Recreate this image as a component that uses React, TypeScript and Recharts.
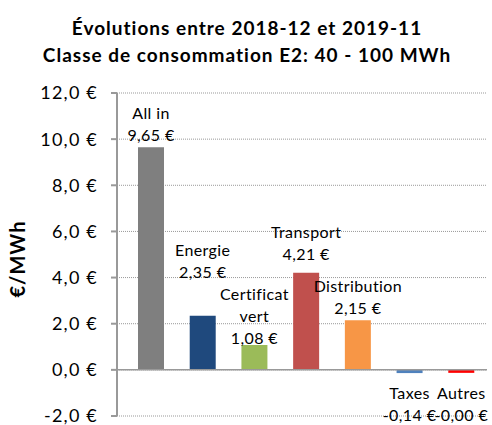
import { BarChart, Bar, XAxis, YAxis, CartesianGrid, ReferenceLine, LabelList, Cell } from "recharts";

const categories = ["All in", "Energie", "Certificat\nvert", "Transport", "Distribution", "Taxes", "Autres"];
const values = [9.65, 2.35, 1.08, 4.21, 2.15, -0.14, -0.004];
const colors = ["#7f7f7f", "#1f497d", "#9bbb59", "#c0504d", "#f79646", "#4f81bd", "#ff0000"];
const yTicks = [-2, 0, 2, 4, 6, 8, 10, 12];

// how far the label block sits from the end of its bar (px)
const labelGap = [6, 38, 1, 13, 6, 26, 26];

const data = categories.map((name, i) => ({ name, value: values[i] }));

const FONT = "Lato, 'Open Sans', sans-serif";
const fmt = (v: number) => v.toFixed(2).replace(".", ",") + " €";

function BarLabel(props: any) {
  const { x, y, width, height, index } = props;
  const v = values[index];
  const lines = [...categories[index].split("\n"), fmt(v)];
  const cx = x + width / 2;
  const top = Math.min(y, y + height);
  const bottom = Math.max(y, y + height);
  const lh = 22;
  let firstBase: number;
  if (v >= 0) {
    firstBase = top - labelGap[index] - (lines.length - 1) * lh;
  } else {
    firstBase = bottom + labelGap[index];
  }
  return (
    <text
      textAnchor="middle"
      fontSize={16}
      letterSpacing={0.4}
      fill="#000"
      fontFamily={FONT}
      style={{ fontVariantLigatures: "none" }}
    >
      {lines.map((l, i) => (
        <tspan key={i} x={cx} y={firstBase + i * lh}>
          {l}
        </tspan>
      ))}
    </text>
  );
}

export default function App() {
  return (
    <div
      style={{
        position: "absolute",
        left: 0,
        top: 0,
        width: 492,
        height: 425,
        background: "#fff",
        fontFamily: FONT,
        fontVariantLigatures: "none",
      }}
    >
      <div
        style={{
          position: "absolute",
          left: 0,
          top: 14,
          width: 494,
          textAlign: "center",
          fontWeight: 700,
          fontSize: 19,
          letterSpacing: 1,
          lineHeight: "27px",
          color: "#000",
        }}
      >
        Évolutions entre 2018-12 et 2019-11
        <br />
        Classe de consommation E2: 40 - 100 MWh
      </div>
      <div
        style={{
          position: "absolute",
          left: 17,
          top: 259,
          transform: "translate(-50%, -50%) rotate(-90deg)",
          fontWeight: 700,
          fontSize: 20,
          letterSpacing: 1,
          whiteSpace: "nowrap",
          color: "#000",
        }}
      >
        €/MWh
      </div>
      <BarChart
        width={492}
        height={425}
        data={data}
        margin={{ top: 93, right: 5, bottom: 9, left: 0 }}
        style={{ position: "absolute", left: 0, top: 0 }}
      >
        <CartesianGrid vertical={false} stroke="#999" strokeDasharray="1 1" />
        <XAxis dataKey="name" hide padding={{ left: 8, right: 0 }} />
        <YAxis
          width={117}
          domain={[-2, 12]}
          ticks={yTicks}
          interval={0}
          tickFormatter={(v: number) => v.toFixed(1).replace(".", ",") + " €"}
          tick={{ fontSize: 18, fill: "#000", fontFamily: FONT, letterSpacing: 1.2 }}
          axisLine={{ stroke: "#999", strokeWidth: 2 }}
          tickLine={{ stroke: "#999", strokeWidth: 2 }}
          tickSize={6}
          tickMargin={13}
        />
        <ReferenceLine y={0} stroke="#999" strokeWidth={1.5} />
        <Bar dataKey="value" barSize={26} minPointSize={3} isAnimationActive={false}>
          {data.map((_, i) => (
            <Cell key={i} fill={colors[i]} />
          ))}
          <LabelList dataKey="value" content={BarLabel} />
        </Bar>
      </BarChart>
    </div>
  );
}
